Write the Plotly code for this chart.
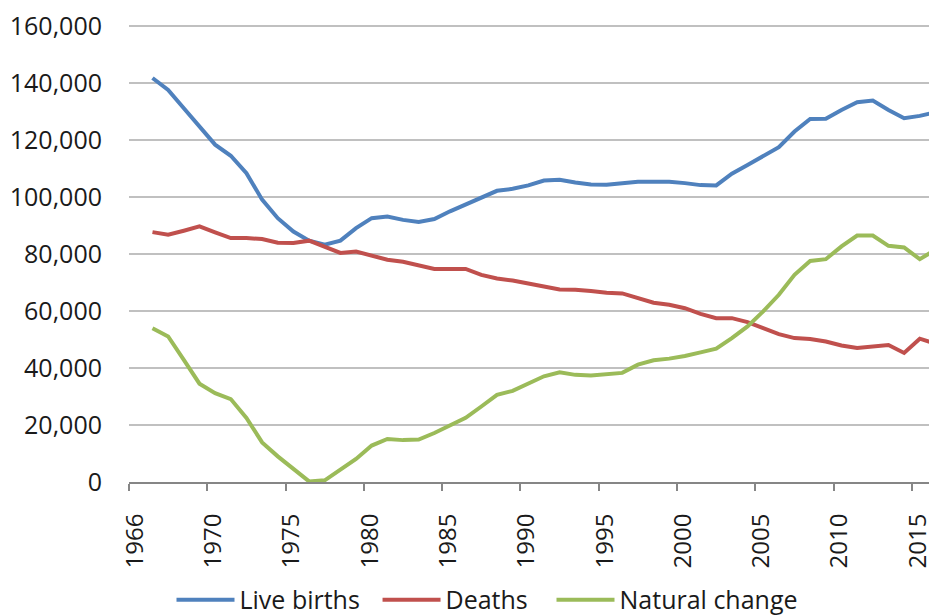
import plotly.graph_objects as go

# ---------------------------------------------------------------------------
#   data (one point per year)
# ---------------------------------------------------------------------------
years = list(range(1966, 2017))

live_births = [
    141.8, 137.6, 131.2, 124.8, 118.4, 114.5, 108.4, 99.1, 92.6, 87.9,
    84.7, 83.3, 84.7, 89.1, 92.6, 93.2, 92.0, 91.3, 92.3, 95.0,
    97.3, 99.6, 102.2, 102.9, 104.1, 105.8, 106.1, 105.1, 104.4, 104.3,
    104.7, 105.4, 105.4, 105.4, 104.9, 104.2, 104.1, 108.2, 111.3, 114.3,
    117.5, 123.0, 127.4, 127.5, 130.6, 133.3, 133.9, 130.6, 127.7, 128.5,
    129.8,
]

deaths = [
    87.7, 86.8, 88.2, 89.7, 87.6, 85.6, 85.6, 85.3, 84.0, 83.9,
    84.7, 82.7, 80.4, 80.9, 79.5, 78.0, 77.3, 76.2, 74.8, 74.8,
    74.8, 72.7, 71.4, 70.7, 69.5, 68.6, 67.6, 67.5, 67.0, 66.4,
    66.2, 64.4, 62.9, 62.2, 61.0, 59.0, 57.5, 57.5, 56.1, 54.0,
    51.9, 50.5, 50.2, 49.3, 47.9, 47.0, 47.6, 48.1, 45.3, 50.3,
    48.5,
]

natural_change = [
    54.0, 51.1, 42.9, 34.5, 31.2, 29.1, 22.5, 13.9, 9.0, 4.7,
    0.2, 0.6, 4.3, 8.1, 12.8, 15.1, 14.7, 14.9, 17.2, 19.9,
    22.5, 26.5, 30.6, 32.0, 34.5, 37.1, 38.5, 37.6, 37.4, 37.9,
    38.3, 41.2, 42.7, 43.3, 44.2, 45.5, 46.8, 50.5, 54.6, 59.9,
    65.7, 72.7, 77.6, 78.2, 82.7, 86.5, 86.5, 82.9, 82.3, 78.2,
    81.5,
]

tick_labels = ['1966', '1970', '1975', '1980', '1985', '1990',
               '1995', '2000', '2005', '2010', '2015']

# ---------------------------------------------------------------------------
#   build the figure
#   (page body has an 8px margin, so the figure is 8px smaller than the window)
# ---------------------------------------------------------------------------
series = [
    ('Live births', live_births, '#4F81BD', 'legend', 0.0526),
    ('Deaths', deaths, '#C0504D', 'legend2', 0.3076),
    ('Natural change', natural_change, '#9BBB59', 'legend3', 0.5229),
]

font_family = 'Open Sans, Noto Sans, sans-serif'

fig = go.Figure()
legends = {}
for name, vals, colour, leg, leg_x in series:
    fig.add_trace(go.Scatter(
        x=years,
        y=[v * 1000 for v in vals],
        mode='lines',
        name=name,
        legend=leg,
        line=dict(color=colour, width=4),
        cliponaxis=False,
    ))
    # one legend per series so the spacing can follow the original
    legends[leg] = dict(
        orientation='h',
        x=leg_x,
        xanchor='left',
        y=-0.258,
        yanchor='middle',
        font=dict(size=25),
        itemwidth=58,
        bgcolor='rgba(0,0,0,0)',
    )

fig.update_layout(
    width=929,
    height=607,
    margin=dict(l=121, r=0, t=17, b=133, autoexpand=False),
    paper_bgcolor='white',
    plot_bgcolor='white',
    font=dict(family=font_family, size=24, color='#1a1a1a'),
    showlegend=True,
    **legends,
)

# tick marks sit between categories, like the original category axis
fig.update_xaxes(
    range=[1964.5, 2016.1],
    tickmode='array',
    tickvals=[1964.5 + 5 * i for i in range(len(tick_labels))],
    ticktext=tick_labels,
    tickangle=-90,
    tickfont=dict(size=24),
    showgrid=False,
    showline=True,
    linecolor='#868686',
    linewidth=2,
    ticks='outside',
    ticklen=7,
    tickwidth=2,
    tickcolor='#868686',
    ticklabelstandoff=13,
    ticklabelshift=6,
    ticklabeloverflow='allow',
    zeroline=False,
    automargin=False,
)
fig.update_yaxes(
    range=[0, 160400],
    tick0=0,
    dtick=20000,
    tickformat=',d',
    tickfont=dict(size=25),
    showgrid=True,
    gridcolor='#c0c0c0',
    gridwidth=1.5,
    showline=False,
    zeroline=False,
    ticks='',
    ticklabelstandoff=26,
    ticklabeloverflow='allow',
    automargin=False,
)

fig.write_html('out.html')
